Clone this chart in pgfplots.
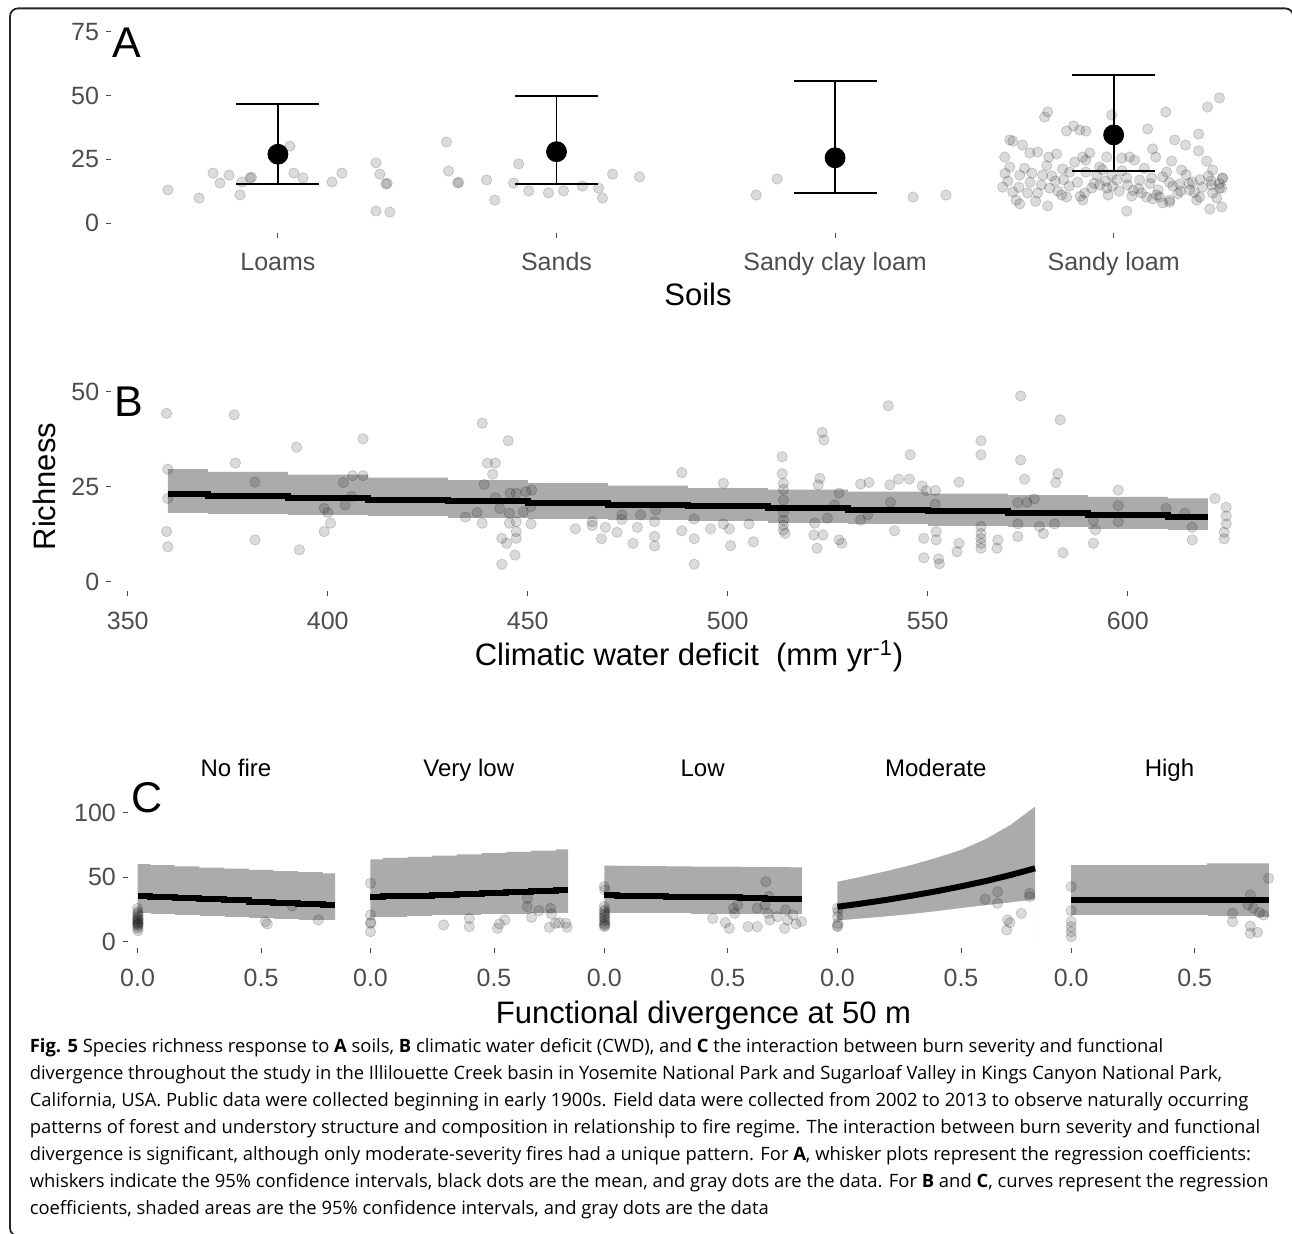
\documentclass[border=0pt]{standalone}
\usepackage{fontspec}
\setmainfont{Liberation Sans}
\newfontfamily\capfont{Open Sans}
\usepackage{pgfplots}
\pgfplotsset{compat=1.18}
\definecolor{band}{HTML}{ABABAB}
\definecolor{tickgray}{HTML}{4D4D4D}

\pgfplotsset{
  ggbase/.style={
    scale only axis,
    axis line style={draw=none},
    tick align=outside,
    tick pos=left,
    major tick length=2.5pt,
    tick style={tickgray, line width=0.5pt},
    ticklabel style={font=\fontsize{12.5}{14}\selectfont, text=tickgray},
    /pgf/number format/assume math mode=true,
    yticklabel style={anchor=east, inner sep=0pt, xshift=-3.2pt},
    xticklabel style={anchor=base, inner sep=0pt, yshift=-16.7pt},
  },
  pts/.style={only marks, mark=*, mark size=2.6pt,
    mark options={fill=black, fill opacity=0.14, draw=black, draw opacity=0.16, line width=0.4pt}},
  facet/.style={ggbase, width=108.2pt, height=74.2pt, xmin=-0.04, xmax=0.836,
    ymin=-5, ymax=110, xtick={0,0.5}, xticklabels={0.0,0.5}, ytick=\empty,
    title style={at={(0.5,1)}, anchor=base, yshift=5.4pt, inner sep=0pt,
      font=\fontsize{12}{14}\selectfont}},
}

% panel A: jittered observations
\pgfplotstableread{
x y
-0.395 13.0
-0.283 9.8
-0.233 19.6
-0.208 15.7
-0.176 18.8
-0.136 11.0
-0.129 16.1
-0.100 17.7
-0.095 17.9
0.043 30.2
0.057 19.6
0.090 17.7
0.194 16.1
0.230 19.6
0.352 23.6
0.366 19.2
0.388 15.3
0.392 15.6
0.352 4.7
0.402 4.3
0.605 31.8
0.612 20.4
0.645 15.7
0.649 16.0
0.749 16.9
0.778 9.0
0.864 23.2
0.846 15.7
0.900 12.6
0.971 11.8
1.025 12.6
1.093 14.5
1.151 13.7
1.165 9.8
1.201 19.2
1.298 18.1
1.717 11.0
1.792 17.3
2.280 10.2
2.398 11.0
2.763 43.6
2.752 41.6
3.380 49.1
3.337 45.5
3.187 43.6
2.993 42.4
3.122 36.9
3.305 34.9
3.219 32.6
3.258 30.6
3.305 28.3
3.334 24.3
2.831 36.1
2.856 38.1
2.878 36.5
2.900 36.1
2.627 32.6
2.638 32.2
2.673 30.6
2.609 25.9
2.699 27.5
2.727 27.9
2.767 25.9
2.795 27.1
2.860 23.9
2.889 25.9
2.900 24.7
2.914 27.5
2.975 25.9
3.029 25.5
3.057 25.9
3.075 24.7
3.140 29.1
3.151 25.9
3.208 24.3
3.244 20.8
3.355 20.8
3.391 17.7
2.627 22.0
2.663 18.8
2.706 19.6
2.745 18.8
2.778 18.5
2.817 21.2
2.842 20.0
2.939 18.8
2.950 22.0
2.993 18.8
3.011 16.9
3.047 17.7
3.093 16.9
3.136 17.7
3.176 18.1
3.212 14.5
3.237 15.3
3.283 16.1
3.319 14.1
3.352 14.9
3.380 13.7
2.602 14.1
2.638 12.2
2.691 11.8
2.727 11.8
2.770 13.7
2.813 11.0
2.831 10.2
2.896 11.8
2.921 13.7
2.950 14.9
2.975 13.7
2.996 14.5
3.065 10.6
3.100 11.8
3.118 10.2
3.154 11.0
3.165 10.2
3.201 9.0
3.273 13.0
3.309 10.2
3.298 9.0
3.355 11.8
3.388 13.7
2.663 7.5
2.763 6.7
2.889 9.0
3.047 4.7
3.176 7.9
3.201 8.2
3.345 5.5
3.388 6.3
2.62 16.5
2.66 14.0
2.70 16.0
2.74 15.0
2.79 16.5
2.84 14.5
2.87 16.0
2.93 15.5
2.97 16.5
3.02 12.5
3.05 15.0
3.09 13.5
3.13 15.5
3.16 13.0
3.20 16.0
3.24 12.5
3.27 15.5
3.31 17.0
3.35 16.5
3.38 15.5
3.39 17.5
2.61 19.5
2.68 21.5
2.76 22.5
2.82 17.0
2.90 20.0
2.96 21.0
3.03 20.5
3.11 21.5
3.19 20.0
3.26 19.0
3.34 18.5
2.65 9.0
2.72 8.5
2.80 12.5
2.88 10.5
2.98 11.0
3.07 12.8
3.14 9.5
3.23 11.5
3.29 12.0
3.37 9.8
}\soilpts

% panel A: means and 95% CI (lower, upper)
\pgfplotstableread{
x y lo hi
0 27.0 15.4 46.7
1 28.0 15.4 50.0
2 25.6 11.7 55.8
3 34.6 20.4 58.2
}\soilfit

% panel B: observations
\pgfplotstableread{
x y
359.7 44.3
360.0 29.6
360.0 21.9
359.7 13.2
360.0 9.2
376.6 43.9
376.9 31.2
381.8 26.2
381.8 11.0
392.2 35.4
392.9 8.4
399.1 19.3
400.0 18.2
400.7 15.4
399.1 13.2
403.9 26.1
404.3 20.2
406.0 22.4
406.2 27.9
408.8 27.9
408.8 37.6
434.4 17.0
437.3 18.2
438.6 15.4
438.6 41.7
439.1 25.6
439.9 31.2
441.9 31.2
441.2 28.3
441.9 22.1
443.0 19.3
443.5 11.4
444.7 10.1
445.1 37.1
445.6 23.3
447.1 23.3
445.4 18.0
445.4 15.4
447.1 15.8
447.1 13.2
447.1 11.4
446.8 7.0
443.5 4.6
448.9 18.4
449.5 23.7
451.0 24.1
450.8 19.8
450.8 15.2
461.9 13.9
466.1 15.8
466.1 14.8
468.4 11.3
469.4 14.3
472.3 13.0
473.5 16.4
473.5 17.6
476.3 10.1
477.4 14.3
478.2 17.6
481.7 15.8
481.7 11.9
481.7 9.4
482.0 18.9
488.5 28.7
488.5 13.4
491.6 16.5
491.6 11.3
491.6 4.6
495.7 13.9
498.9 25.9
498.9 15.2
500.4 13.9
500.7 9.5
505.3 15.2
506.4 10.5
513.6 32.9
513.6 28.4
513.9 25.9
513.9 24.3
513.9 21.5
513.9 18.2
513.9 16.2
513.9 14.9
513.9 13.6
514.3 12.7
523.6 39.3
524.0 37.3
523.0 27.2
522.6 25.5
521.7 15.4
521.5 12.3
522.3 8.8
523.8 12.3
524.9 16.7
526.7 20.2
527.8 23.3
527.8 11.0
528.5 10.1
533.2 25.7
535.3 26.1
533.2 16.2
535.0 17.6
540.1 46.3
540.5 25.5
540.7 20.9
541.7 13.4
542.7 27.0
545.4 27.0
545.6 33.4
548.6 25.2
549.6 24.0
551.9 24.0
551.9 20.4
549.0 11.4
549.0 6.3
552.1 13.2
552.1 11.0
552.7 6.0
552.9 4.7
557.8 26.2
557.8 10.1
557.3 7.9
563.3 37.1
563.3 33.4
563.3 14.5
563.3 12.7
563.3 11.4
563.3 10.1
563.3 8.8
567.5 11.0
567.3 8.8
573.2 48.9
573.2 32.0
574.2 27.0
572.5 20.8
574.8 20.9
576.6 21.8
572.5 15.2
572.5 11.9
577.9 14.5
578.9 12.7
581.7 15.2
583.8 7.6
583.1 42.6
582.5 28.4
582.0 26.1
591.4 16.1
591.9 13.6
591.4 10.1
597.6 24.1
597.6 20.0
597.6 15.8
609.6 19.3
614.3 18.0
616.1 14.3
616.1 11.0
621.8 21.9
624.6 19.6
624.6 17.3
624.6 15.2
624.1 13.0
624.1 11.3
}\cwdpts

% panel B: fitted curve and 95% CI
\pgfplotstableread{
x fit lo hi
360 23.0 18.0 29.6
380 22.6 17.7 28.9
400 22.1 17.4 28.2
420 21.6 17.1 27.4
440 21.2 16.7 26.7
460 20.7 16.4 26.0
480 20.3 16.1 25.3
500 19.8 15.8 24.6
520 19.4 15.4 24.2
540 18.9 15.0 23.7
560 18.5 14.6 23.2
580 18.0 14.2 22.8
600 17.6 13.8 22.3
620 17.1 13.4 21.9
}\cwdfit

% panel C: fitted curves per burn severity
\pgfplotstableread{
x fit lo hi
0.0 35.7 21.5 60.2
0.1 34.8 20.8 59.3
0.2 33.9 20.1 58.4
0.3 33.0 19.4 57.5
0.4 32.1 18.8 56.6
0.5 31.1 18.1 55.7
0.6 30.2 17.4 54.8
0.7 29.3 16.7 53.9
0.8 28.4 16.0 53.0
}\fitA
\pgfplotstableread{
x fit lo hi
0.0 34.4 18.6 63.9
0.1 35.1 19.0 64.9
0.2 35.8 19.5 65.8
0.3 36.5 19.9 66.8
0.4 37.2 20.3 67.8
0.5 38.0 20.7 68.7
0.6 38.7 21.2 69.7
0.7 39.4 21.6 70.6
0.8 40.1 22.0 71.6
}\fitB
\pgfplotstableread{
x fit lo hi
0.0 36.2 22.0 58.9
0.1 35.8 21.8 58.8
0.2 35.4 21.7 58.6
0.3 35.0 21.5 58.5
0.4 34.7 21.4 58.3
0.5 34.3 21.2 58.2
0.6 33.9 21.0 58.0
0.7 33.5 20.9 57.9
0.8 33.1 20.7 57.7
}\fitC
\pgfplotstableread{
x fit lo hi
0.0 27.1 16.0 46.5
0.1 29.7 17.6 50.5
0.2 32.5 19.2 54.8
0.3 35.7 21.0 59.5
0.4 39.1 23.2 65.0
0.5 42.9 25.6 71.1
0.6 47.0 27.8 79.5
0.7 51.7 30.0 90.5
0.8 56.9 32.3 104.7
}\fitD
\pgfplotstableread{
x fit lo hi
0.0 32.3 20.4 59.4
0.1 32.3 20.3 59.4
0.2 32.3 20.2 59.4
0.3 32.3 20.1 59.4
0.4 32.3 20.0 59.4
0.5 32.3 19.9 59.4
0.6 32.3 19.4 60.8
0.7 32.3 19.2 60.8
0.8 32.3 19.0 60.8
}\fitE

% panel C: observations per burn severity
\pgfplotstableread{
x y
0.000 25.9
0.002 23.3
0.000 22.0
0.003 20.7
0.000 19.4
0.002 18.1
0.000 17.5
0.003 16.9
0.000 15.6
0.002 15.0
0.000 14.3
0.003 13.5
0.000 13.0
0.002 11.7
0.000 10.4
0.002 8.6
0.525 13.8
0.517 15.6
0.626 27.7
0.732 16.9
}\ptsA
\pgfplotstableread{
x y
0.000 45.3
0.000 20.7
0.002 15.0
0.000 14.3
0.000 7.8
0.296 13.0
0.400 18.1
0.400 11.7
0.514 10.4
0.522 13.8
0.544 16.9
0.635 33.7
0.635 27.2
0.652 18.9
0.682 24.1
0.729 25.9
0.733 21.5
0.724 11.2
0.749 14.3
0.763 14.8
0.791 14.3
0.796 11.2
}\ptsB
\pgfplotstableread{
x y
0.000 42.7
0.002 40.1
0.000 27.2
0.002 24.6
0.000 23.5
0.003 22.0
0.000 21.0
0.002 19.4
0.000 18.5
0.003 16.9
0.000 16.0
0.002 14.3
0.000 13.5
0.003 12.5
0.000 11.7
0.439 18.1
0.490 14.8
0.506 10.4
0.528 22.0
0.540 28.5
0.523 25.9
0.582 11.7
0.619 11.7
0.619 25.9
0.650 28.5
0.654 46.6
0.663 22.0
0.666 35.0
0.670 16.9
0.700 19.4
0.734 24.6
0.730 10.4
0.742 16.9
0.764 20.7
0.776 13.8
0.798 15.6
}\ptsC
\pgfplotstableread{
x y
0.000 25.9
0.002 23.3
0.000 19.4
0.002 14.3
0.000 12.5
0.000 11.7
0.598 32.9
0.648 38.8
0.648 29.8
0.688 16.9
0.698 14.8
0.685 9.1
0.744 22.0
0.778 37.5
0.778 34.9
}\ptsD
\pgfplotstableread{
x y
0.000 42.7
0.000 24.1
0.000 15.6
0.000 11.7
0.000 7.8
0.000 3.9
0.653 22.0
0.653 15.6
0.725 36.3
0.715 28.5
0.737 25.9
0.762 22.5
0.779 20.7
0.725 12.2
0.725 6.5
0.754 7.3
0.799 49.2
}\ptsE

% band = area under the upper limit, with the area under the lower limit wiped white
\newcommand{\fitlayers}[3]{%
  \addplot[fill=band, draw=none, #3] table[x=x, y=hi] {#1} \closedcycle;
  \addplot[fill=white, draw=white, line width=0.6pt, #3] table[x=x, y=lo] {#1} \closedcycle;
  \addplot[black, line width=3pt, no marks, #3] table[x=x, y=fit] {#1};
  \addplot[pts] table {#2};
}

\begin{document}
\begin{tikzpicture}
\useasboundingbox (0,0) rectangle (646pt,-617pt);
\draw[black!85, line width=0.9pt, rounded corners=4pt]
  (10pt,-618pt) -- (5pt,-618pt) -- (5pt,-4.2pt) -- (646.6pt,-4.2pt) -- (646.6pt,-12pt);

% ---------- A: soils ----------
\begin{axis}[ggbase, at={(55.4pt,-116.3pt)}, anchor=south west,
  width=585pt, height=105.1pt,
  xmin=-0.6, xmax=3.6, ymin=-3.75, ymax=78.75,
  xtick={0,1,2,3}, xticklabels={Loams,Sands,Sandy clay loam,Sandy loam},
  ytick={0,25,50,75}]
\addplot[pts] table {\soilpts};
\addplot[black, line width=0.9pt] coordinates {(0,15.4) (0,46.7)};
\addplot[black, line width=0.9pt] coordinates {(1,15.4) (1,50.0)};
\addplot[black, line width=0.9pt] coordinates {(2,11.7) (2,55.8)};
\addplot[black, line width=0.9pt] coordinates {(3,20.4) (3,58.2)};
\addplot[black, line width=0.9pt, only marks, mark=-, mark size=20.75pt,
  mark options={line width=0.9pt}] table[x=x, y=lo] {\soilfit};
\addplot[black, line width=0.9pt, only marks, mark=-, mark size=20.75pt,
  mark options={line width=0.9pt}] table[x=x, y=hi] {\soilfit};
\addplot[only marks, mark=*, mark size=5pt, black] table[x=x, y=y] {\soilfit};
\end{axis}

% ---------- B: climatic water deficit ----------
\begin{axis}[ggbase, at={(55.5pt,-295.6pt)}, anchor=south west,
  width=585pt, height=104.5pt,
  xmin=345.8, xmax=638.3, ymin=-2.5, ymax=52.5,
  xtick={350,400,450,500,550,600}, ytick={0,25,50}]
\fitlayers{\cwdfit}{\cwdpts}{const plot mark mid}
\end{axis}

% ---------- C: burn severity x functional divergence ----------
\begin{axis}[facet, at={(63.85pt,-474.1pt)}, anchor=south west,
  ytick={0,50,100}, title={No fire}]
\fitlayers{\fitA}{\ptsA}{const plot mark mid}
\end{axis}
\begin{axis}[facet, at={(180.3pt,-474.1pt)}, anchor=south west, title={Very low}]
\fitlayers{\fitB}{\ptsB}{const plot mark mid}
\end{axis}
\begin{axis}[facet, at={(297.2pt,-474.1pt)}, anchor=south west, title={Low}]
\fitlayers{\fitC}{\ptsC}{const plot mark mid}
\end{axis}
\begin{axis}[facet, at={(413.8pt,-474.1pt)}, anchor=south west, title={Moderate}]
\fitlayers{\fitD}{\ptsD}{sharp plot}
\end{axis}
\begin{axis}[facet, at={(530.65pt,-474.1pt)}, anchor=south west, title={High}]
\fitlayers{\fitE}{\ptsE}{const plot mark mid}
\end{axis}

% panel tags and axis titles
\begin{scope}[every node/.style={inner sep=0pt}]
\node[anchor=base west, font=\fontsize{21.5}{24}\selectfont] at (56pt,-29pt) {A};
\node[anchor=base west, font=\fontsize{21.5}{24}\selectfont] at (57pt,-208.5pt) {B};
\node[anchor=base west, font=\fontsize{21.5}{24}\selectfont] at (65.3pt,-406.5pt) {C};
\node[anchor=base, font=\fontsize{15.5}{18}\selectfont] at (349pt,-153pt) {Soils};
\node[anchor=base, font=\fontsize{15.5}{18}\selectfont] at (344.5pt,-333pt)
  {Climatic water deficit\ \ (mm yr\textsuperscript{-1})};
\node[anchor=base, font=\fontsize{15.5}{18}\selectfont] at (351.75pt,-511.7pt)
  {Functional divergence at 50 m};
\node[anchor=base, rotate=90, font=\fontsize{15.5}{18}\selectfont] at (27.7pt,-243.3pt) {Richness};
\end{scope}

% caption
\node[anchor=base west, inner sep=0pt] at (14.7pt,-526.4pt) {%
  \begin{minipage}[t]{660pt}\capfont\fontsize{9.2}{13.5}\selectfont\raggedright
  \textbf{Fig. 5} Species richness response to \textbf{A} soils, \textbf{B} climatic water deficit (CWD), and \textbf{C} the interaction between burn severity and functional\\
  divergence throughout the study in the Illilouette Creek basin in Yosemite National Park and Sugarloaf Valley in Kings Canyon National Park,\\
  California, USA. Public data were collected beginning in early 1900s. Field data were collected from 2002 to 2013 to observe naturally occurring\\
  patterns of forest and understory structure and composition in relationship to fire regime. The interaction between burn severity and functional\\
  divergence is significant, although only moderate-severity fires had a unique pattern. For \textbf{A}, whisker plots represent the regression coefficients:\\
  whiskers indicate the 95\% confidence intervals, black dots are the mean, and gray dots are the data. For \textbf{B} and \textbf{C}, curves represent the regression\\
  coefficients, shaded areas are the 95\% confidence intervals, and gray dots are the data
  \end{minipage}};
\end{tikzpicture}
\end{document}
